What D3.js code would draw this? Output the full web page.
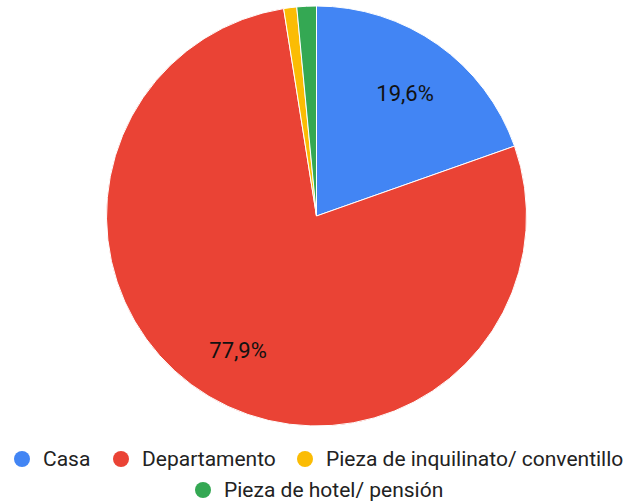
<!DOCTYPE html>
<html><head><meta charset="utf-8">
<script src="https://cdn.jsdelivr.net/npm/d3@7/dist/d3.min.js"></script>
<style>body{margin:0;background:#fff}svg{display:block}text{font-family:Roboto,sans-serif}</style>
</head><body><svg id="c" width="623" height="503"></svg>
<script>
const categories = ["Casa","Departamento","Pieza de inquilinato/ conventillo","Pieza de hotel/ pensión"];
const values = [19.6,77.9,1.0,1.5];
const labels = ["19,6%","77,9%","",""];
const colors = ["#4285f4","#ea4335","#fbbc04","#34a853"];

const svg = d3.select("#c");
const cx = 316.5, cy = 216, r = 210;
const pie = d3.pie().sort(null).value(d=>d)(values);
const arc = d3.arc().innerRadius(0).outerRadius(r);
const g = svg.append("g").attr("transform",`translate(${cx},${cy})`);
g.selectAll("path").data(pie).join("path")
  .attr("d",arc).attr("fill",(d,i)=>colors[i]).attr("stroke","#fff").attr("stroke-width",1);
const la = d3.arc().innerRadius(r*0.73).outerRadius(r*0.73);
g.selectAll("text").data(pie).join("text")
  .attr("transform",d=>`translate(${la.centroid(d)})`)
  .attr("text-anchor","middle").attr("dy","0.45em")
  .attr("font-size",22).attr("fill","#111")
  .text((d,i)=>labels[i]);

const leg = [
  {i:0,x:22,y:459},{i:1,x:121,y:459},{i:2,x:305,y:459},{i:3,x:203,y:490}
];
const lg = svg.append("g");
leg.forEach(l=>{
  lg.append("circle").attr("cx",l.x).attr("cy",l.y).attr("r",8).attr("fill",colors[l.i]);
  lg.append("text").attr("x",l.x+21).attr("y",l.y).attr("dy","0.35em")
    .attr("font-size",21).attr("fill","#222").text(categories[l.i]);
});
</script></body></html>
